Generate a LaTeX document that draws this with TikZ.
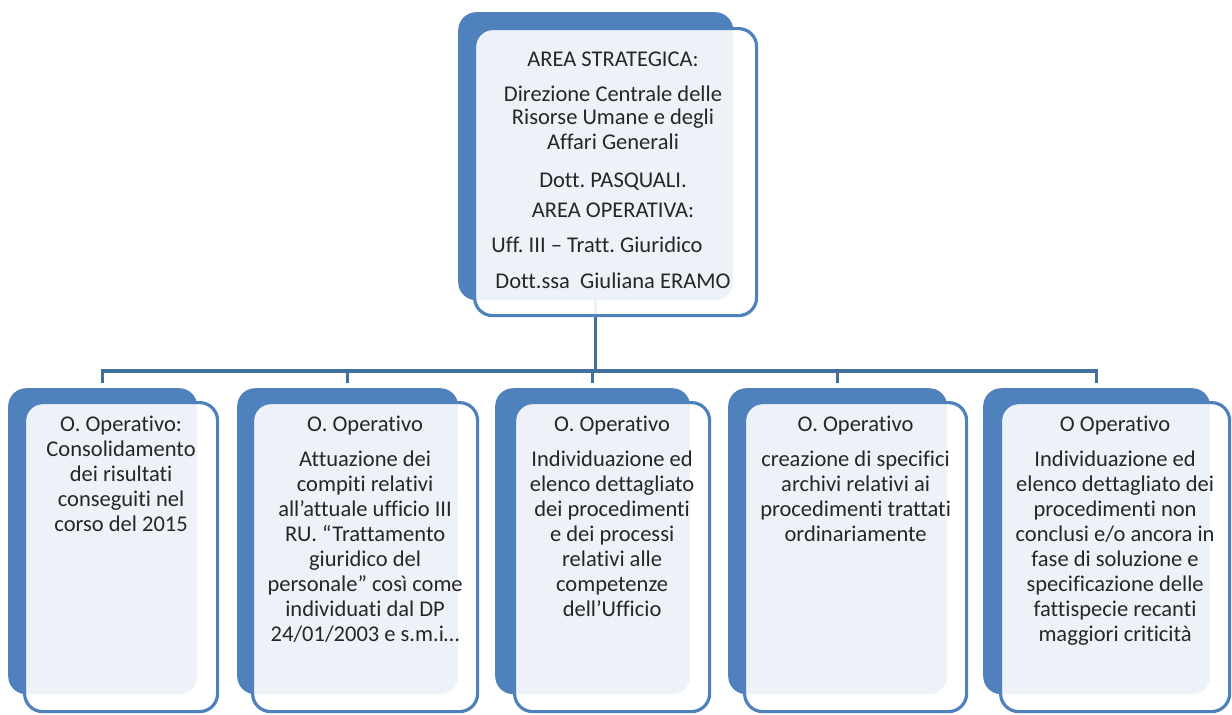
\documentclass[tikz,border=0pt]{standalone}
\usepackage{fontspec}
\setmainfont{Carlito}[Ligatures=NoCommon]
\frenchspacing
\definecolor{accent}{HTML}{4F81BD}
\definecolor{linkc}{HTML}{41719C}
\begin{document}
\frenchspacing
\begin{tikzpicture}[x=1pt,y=-1pt,
  backbox/.style={fill=accent, draw=none, rounded corners=18pt, inner sep=0pt, anchor=north west},
  frontbox/.style={draw=accent, line width=3.2pt, fill=white, fill opacity=0.9, draw opacity=1, rounded corners=18pt, inner sep=0pt, anchor=north west},
  link/.style={draw=linkc, line width=3.5pt},
  lbl/.style={align=center, font=\fontsize{22.5}{25}\selectfont\frenchspacing, text=black!85, inner sep=0pt, anchor=north}]
\useasboundingbox (0,0) rectangle (1232,715);
% back boxes
\node[backbox, minimum width=275pt, minimum height=288pt] (tb) at (458,12) {};
\node[backbox, minimum width=189pt, minimum height=306pt] (b1) at (8,388) {};
\node[backbox, minimum width=221pt, minimum height=306pt] (b2) at (237,388) {};
\node[backbox, minimum width=195pt, minimum height=306pt] (b3) at (495,388) {};
\node[backbox, minimum width=219pt, minimum height=306pt] (b4) at (728,388) {};
\node[backbox, minimum width=227pt, minimum height=306pt] (b5) at (983,388) {};
% connectors
\coordinate (bus) at (597,371);
\draw[link] (tb.south) -- (tb.south |- bus);
\foreach \b in {b1,b2,b3,b4,b5}
  \draw[link, shorten >=5pt] (tb.south |- bus) -| (\b.north);
% front boxes
\node[frontbox, minimum width=282pt, minimum height=287pt] (tf) at (473,27) {};
\node[frontbox, minimum width=193pt, minimum height=309pt] (f1) at (23,401) {};
\node[frontbox, minimum width=225pt, minimum height=309pt] (f2) at (251,401) {};
\node[frontbox, minimum width=195pt, minimum height=309pt] (f3) at (513,401) {};
\node[frontbox, minimum width=222pt, minimum height=309pt] (f4) at (743,401) {};
\node[frontbox, minimum width=229pt, minimum height=309pt] (f5) at (999,401) {};
% texts
\node[lbl] (tt) at (613,52) {AREA STRATEGICA:\\[10pt]Direzione Centrale delle\\[-2pt]Risorse Umane e degli\\Affari Generali\\[13pt]Dott. PASQUALI.\\[5pt]AREA OPERATIVA:\\[10pt]Uff. III – Tratt. Giuridico\hbox to 32pt{}\\[11pt]Dott.ssa\ \ Giuliana ERAMO};
\node[lbl] (t1) at (f1.north |- 0,416) {O. Operativo:\\Consolidamento\\dei risultati\\conseguiti nel\\corso del 2015};
\node[lbl] (t2) at (f2.north |- 0,416) {O. Operativo\\[10pt]Attuazione dei\\compiti relativi\\all’attuale ufficio III\\RU. “Trattamento\\giuridico del\\personale” così come\\individuati dal DP\\24/01/2003 e s.m.i…};
\node[lbl] (t3) at (f3.north |- 0,416) {O. Operativo\\[10pt]Individuazione ed\\elenco dettagliato\\dei procedimenti\\e dei processi\\relativi alle\\competenze\\dell’Ufficio};
\node[lbl] (t4) at (f4.north |- 0,416) {O. Operativo\\[10pt]creazione di specifici\\archivi relativi ai\\procedimenti trattati\\ordinariamente};
\node[lbl] (t5) at (f5.north |- 0,416) {O Operativo\\[10pt]Individuazione ed\\elenco dettagliato dei\\procedimenti non\\conclusi e/o ancora in\\fase di soluzione e\\specificazione delle\\fattispecie recanti\\maggiori criticità};
\end{tikzpicture}
\end{document}
